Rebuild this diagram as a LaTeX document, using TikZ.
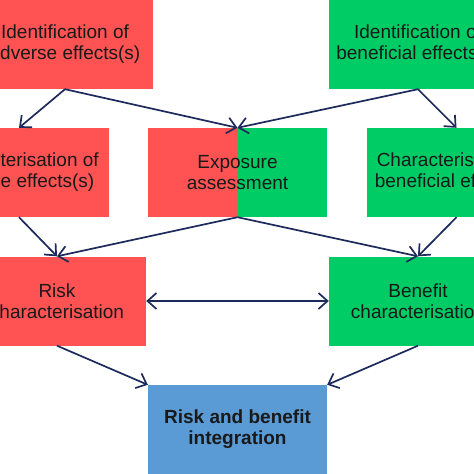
\documentclass[tikz,border=0pt]{standalone}
\usepackage{fontspec}
\setmainfont{Liberation Sans}
\usepackage{xcolor}
\usepackage{tikz}
\usetikzlibrary{arrows.meta,positioning}
\definecolor{riskred}{HTML}{FF5353}
\definecolor{bengreen}{HTML}{00CC66}
\definecolor{intblue}{HTML}{5B9BD5}
\definecolor{arrownavy}{HTML}{1C2A5C}
\tikzset{
  block/.style={rectangle, align=center, inner sep=0pt, minimum width=178pt, minimum height=89pt,
    text=black!90, font=\fontsize{19}{21}\selectfont},
  redblock/.style={block, fill=riskred},
  greenblock/.style={block, fill=bengreen},
  line/.style={-{Straight Barb[length=9pt,width=16pt]}, line width=1.7pt, draw=arrownavy}
}

\begin{document}
\begin{tikzpicture}[x=1pt, y=-1pt]
  \useasboundingbox (0,0) rectangle (474,474);
  \clip (0,0) rectangle (474,474);
  \node[redblock, minimum width=176pt] (idadv) at (65,44.5) {Identification of\\adverse effects(s)};
  \node[greenblock, minimum width=178pt] (idben) at (418,44.5) {Identification of\\beneficial effects(s)};
  \node[redblock, minimum width=179pt] (charadv) at (19,172.5) {Characterisation of\\adverse effects(s)};
  \node[block, minimum width=179pt,
    path picture={\fill[riskred] (path picture bounding box.south west) rectangle (path picture bounding box.north);
                  \fill[bengreen] (path picture bounding box.south) rectangle (path picture bounding box.north east);}]
    (expo) at (237.5,172.5) {Exposure\\assessment};
  \node[greenblock, minimum width=179pt] (charben) at (456.5,172.5) {Characterisation of\\beneficial effects(s)};
  \node[redblock] (riskch) at (57,301) {Risk\\characterisation};
  \node[greenblock] (bench) at (418,301) {Benefit\\characterisation};
  \node[block, fill=intblue, minimum width=179pt, font=\fontsize{19}{21}\selectfont\bfseries] (integ) at (237.5,429.5) {Risk and benefit\\integration};
  \draw[line] (idadv.south) -- (charadv.north);
  \draw[line] (idadv.south) -- (expo.north);
  \draw[line] (idben.south) -- (expo.north);
  \draw[line] (idben.south) -- (charben.north);
  \draw[line] (charadv.south) -- (riskch.north);
  \draw[line] (expo.south) -- (riskch.north);
  \draw[line] (expo.south) -- (bench.north);
  \draw[line] (charben.south) -- (bench.north);
  \draw[line, {Straight Barb[length=9pt,width=16pt]}-{Straight Barb[length=9pt,width=16pt]}] (riskch.east) -- (bench.west);
  \draw[line] (riskch.south) -- (integ.north west);
  \draw[line] (bench.south) -- (integ.north east);
\end{tikzpicture}
\end{document}
